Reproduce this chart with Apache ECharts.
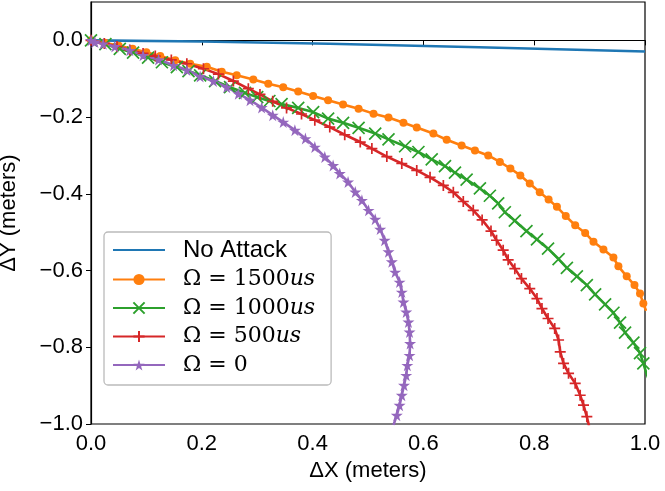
<!DOCTYPE html>
<html>
<head>
<meta charset="utf-8">
<script src="https://cdn.jsdelivr.net/npm/echarts@6/dist/echarts.min.js"></script>
<style>
html, body { margin: 0; padding: 0; background: #fff; }
#chart { width: 665px; height: 491px; }
</style>
</head>
<body>
<div id="chart"></div>
<script>
// tick positions
var xTicks = [0, 0.2, 0.4, 0.6, 0.8, 1.0];
var yTicks = [-1.0, -0.8, -0.6, -0.4, -0.2, 0.0];

var seriesNames = ['No Attack', 'Ω = 1500us', 'Ω = 1000us', 'Ω = 500us', 'Ω = 0'];

// [dX, dY] in meters
var noAttack = [[0, 0], [0.2, -0.003], [0.43, -0.009], [0.7, -0.018], [1.0, -0.029]];

var omega1500 = [[0, 0], [0.025, -0.006], [0.05, -0.014], [0.075, -0.022], [0.1, -0.031], [0.125, -0.041],
  [0.152, -0.052], [0.179, -0.061], [0.209, -0.069], [0.236, -0.082], [0.263, -0.091], [0.293, -0.102],
  [0.320, -0.113], [0.347, -0.122], [0.374, -0.133], [0.401, -0.145], [0.428, -0.156], [0.455, -0.167],
  [0.483, -0.178], [0.510, -0.191], [0.537, -0.201], [0.564, -0.215], [0.588, -0.227], [0.618, -0.243],
  [0.642, -0.259], [0.669, -0.274], [0.693, -0.287], [0.717, -0.300], [0.738, -0.317], [0.757, -0.334],
  [0.775, -0.352], [0.792, -0.373], [0.810, -0.396], [0.826, -0.415], [0.841, -0.434], [0.857, -0.458],
  [0.874, -0.482], [0.892, -0.502], [0.907, -0.525], [0.925, -0.545], [0.943, -0.566], [0.952, -0.589],
  [0.967, -0.615], [0.981, -0.638], [0.991, -0.660], [0.997, -0.686], [1.002, -0.705]];

var omega1000 = [[0, 0], [0.026, -0.010], [0.052, -0.022], [0.076, -0.032], [0.103, -0.045], [0.128, -0.057],
  [0.155, -0.070], [0.176, -0.080], [0.197, -0.091], [0.224, -0.106], [0.251, -0.122], [0.278, -0.137],
  [0.300, -0.148], [0.322, -0.158], [0.344, -0.166], [0.374, -0.176], [0.401, -0.187], [0.428, -0.204],
  [0.455, -0.215], [0.483, -0.228], [0.513, -0.243], [0.537, -0.258], [0.567, -0.276], [0.591, -0.291],
  [0.615, -0.310], [0.639, -0.328], [0.657, -0.345], [0.678, -0.363], [0.702, -0.386], [0.720, -0.405],
  [0.735, -0.425], [0.747, -0.448], [0.765, -0.470], [0.786, -0.497], [0.805, -0.519], [0.825, -0.543],
  [0.844, -0.570], [0.859, -0.593], [0.877, -0.615], [0.895, -0.638], [0.910, -0.662], [0.928, -0.688],
  [0.943, -0.710], [0.955, -0.736], [0.964, -0.762], [0.979, -0.788], [0.991, -0.815], [0.997, -0.842],
  [1.003, -0.870], [1.010, -0.895]];

var omega500 = [[0, 0], [0.024, -0.008], [0.047, -0.016], [0.070, -0.025], [0.094, -0.034], [0.116, -0.041],
  [0.145, -0.051], [0.173, -0.061], [0.203, -0.074], [0.230, -0.088], [0.257, -0.106], [0.284, -0.126],
  [0.305, -0.141], [0.328, -0.159], [0.353, -0.176], [0.380, -0.192], [0.404, -0.208], [0.431, -0.226],
  [0.458, -0.246], [0.486, -0.265], [0.507, -0.282], [0.534, -0.303], [0.561, -0.321], [0.588, -0.339],
  [0.612, -0.357], [0.636, -0.378], [0.654, -0.396], [0.672, -0.420], [0.690, -0.443], [0.706, -0.468],
  [0.722, -0.497], [0.732, -0.521], [0.744, -0.547], [0.753, -0.572], [0.765, -0.595], [0.777, -0.621],
  [0.792, -0.647], [0.805, -0.673], [0.814, -0.699], [0.825, -0.725], [0.837, -0.751], [0.844, -0.781],
  [0.847, -0.812], [0.853, -0.842], [0.862, -0.868], [0.874, -0.894], [0.883, -0.925], [0.889, -0.951],
  [0.895, -0.981], [0.899, -1.005]];

var omega0 = [[0, 0], [0.007, -0.004], [0.022, -0.009], [0.043, -0.016], [0.070, -0.026], [0.094, -0.039],
  [0.122, -0.050], [0.149, -0.065], [0.173, -0.077], [0.197, -0.094], [0.221, -0.106], [0.245, -0.122],
  [0.266, -0.139], [0.287, -0.156], [0.308, -0.175], [0.328, -0.195], [0.347, -0.213], [0.368, -0.234],
  [0.387, -0.256], [0.404, -0.278], [0.422, -0.304], [0.437, -0.326], [0.449, -0.347], [0.464, -0.369],
  [0.477, -0.395], [0.489, -0.417], [0.501, -0.443], [0.513, -0.466], [0.522, -0.492], [0.530, -0.521],
  [0.537, -0.551], [0.543, -0.577], [0.549, -0.604], [0.557, -0.630], [0.561, -0.656], [0.564, -0.682],
  [0.569, -0.708], [0.573, -0.734], [0.575, -0.760], [0.576, -0.790], [0.575, -0.821], [0.571, -0.847],
  [0.569, -0.873], [0.565, -0.899], [0.561, -0.925], [0.557, -0.951], [0.552, -0.977], [0.546, -1.003]];

var colors = ['#1f77b4', '#ff7f0e', '#2ca02c', '#d62728', '#9467bd'];

var xMark = 'path://M0,0L10,10M10,0L0,10';
var plusMark = 'path://M5,0L5,10M0,5L10,5';
var starMark = 'path://M50,0L61,35L98,35L68,57L79,91L50,70L21,91L32,57L2,35L39,35Z';

var sans = 'Liberation Sans, Arial, sans-serif';
var serif = 'DejaVu Serif, serif';

function tickFmt(v) {
    if (Math.abs(v) < 1e-9) return '0.0';
    return (v < 0 ? '\u2212' : '') + Math.abs(v).toFixed(1);
}

function lineSeries(i, data, symbol, size, stroked, hidden) {
    return {
        name: seriesNames[i],
        type: 'line',
        data: data,
        symbol: symbol,
        symbolSize: size,
        showSymbol: !hidden,
        lineStyle: { color: colors[i], width: 2.6 },
        itemStyle: {
            color: stroked ? 'transparent' : colors[i],
            borderColor: colors[i],
            borderWidth: stroked ? 1.7 : 0,
            opacity: hidden ? 0 : 1
        },
        emphasis: { disabled: true },
        animation: false
    };
}

var chart = echarts.init(document.getElementById('chart'));
chart.setOption({
    backgroundColor: '#fff',
    grid: {
        left: 91, right: 20, top: 2, bottom: 67, outerBoundsMode: 'none',
        show: true, borderColor: '#000', borderWidth: 1.2
    },
    xAxis: {
        type: 'value', min: 0, max: 1, interval: 0.2,
        name: 'ΔX (meters)', nameLocation: 'middle', nameGap: 36,
        nameTextStyle: { fontFamily: sans, fontSize: 22, color: '#000' },
        axisLine: { show: true, lineStyle: { color: '#000', width: 1.2 } },
        axisTick: { show: true, length: 5, lineStyle: { color: '#000' }, customValues: xTicks },
        axisLabel: { fontFamily: sans, fontSize: 22, color: '#000', margin: 9, formatter: tickFmt, customValues: xTicks },
        splitLine: { show: false }
    },
    yAxis: {
        type: 'value', min: -1, max: 0.1, interval: 0.2,
        name: 'ΔY (meters)', nameLocation: 'middle', nameGap: 71, nameRotate: 90,
        nameTextStyle: { fontFamily: sans, fontSize: 22, color: '#000' },
        axisLine: { show: true, lineStyle: { color: '#000', width: 1.2 } },
        axisTick: { show: true, length: 5, lineStyle: { color: '#000' }, customValues: yTicks },
        axisLabel: { fontFamily: sans, fontSize: 22, color: '#000', margin: 8, formatter: tickFmt, customValues: yTicks },
        splitLine: { show: false }
    },
    legend: {
        orient: 'vertical',
        left: 104, top: 232,
        padding: [6, 16, 9, 8],
        itemWidth: 52, itemHeight: 14, itemGap: 6.5,
        borderColor: '#bbb', borderWidth: 1.3, borderRadius: 4,
        backgroundColor: 'rgba(255,255,255,0.85)',
        data: seriesNames,
        formatter: function (name) {
            if (name.charAt(0) !== 'Ω') return '{t|' + name + '}';
            var rest = name.slice(1).replace('=', '').trim();
            var num = rest.replace('us', '');
            return '{m|Ω = ' + num + '}' + (rest.indexOf('us') >= 0 ? '{i|us}' : '');
        },
        textStyle: {
            padding: [0, 0, 0, 13],
            rich: {
                t: { fontFamily: sans, fontSize: 24, color: '#000', lineHeight: 28 },
                m: { fontFamily: serif, fontSize: 22, color: '#000', lineHeight: 28 },
                i: { fontFamily: serif, fontSize: 22, fontStyle: 'italic', color: '#000', lineHeight: 28 }
            }
        }
    },
    series: [
        lineSeries(0, noAttack, 'circle', 0, false, true),
        lineSeries(1, omega1500, 'circle', 8, false, false),
        lineSeries(2, omega1000, xMark, 12, true, false),
        lineSeries(3, omega500, plusMark, 11, true, false),
        lineSeries(4, omega0, starMark, 12, false, false)
    ]
});
</script>
</body>
</html>
